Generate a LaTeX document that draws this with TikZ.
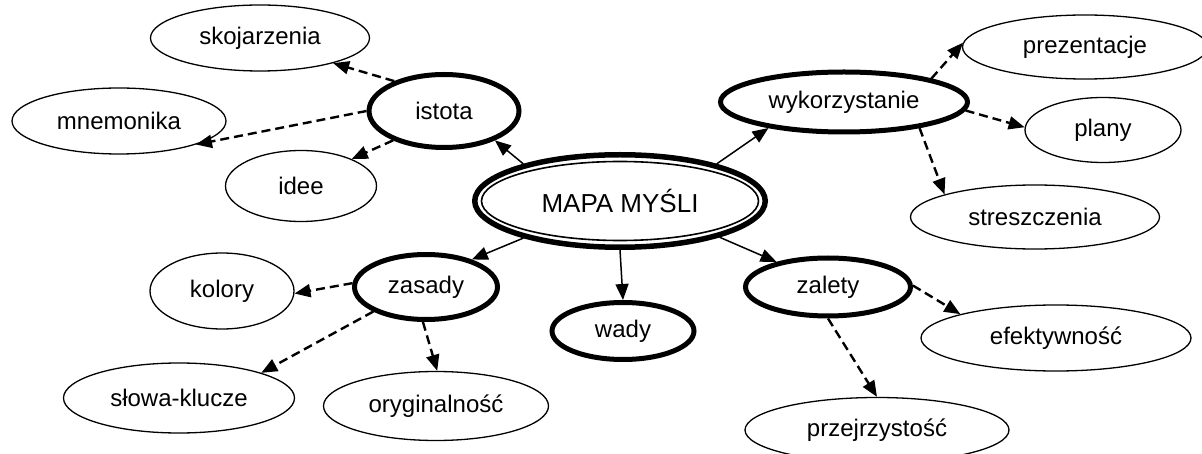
\documentclass[tikz,border=0pt]{standalone}
\usepackage{fontspec}
\setmainfont{Liberation Sans}
\usetikzlibrary{shapes.geometric,arrows.meta}
\tikzset{
  base/.style={ellipse, inner sep=0pt, font=\fontsize{24}{28}\selectfont},
  leaf/.style={base, draw, line width=1.3pt},
  hub/.style={base, draw, line width=5pt},
  solidarrow/.style={-{Triangle[length=16pt,width=13pt]}, line width=1.5pt},
  dasharrow/.style={-{Triangle[length=16pt,width=13pt]}, line width=2.4pt, dash pattern=on 9pt off 5pt},
}
\begin{document}
\begin{tikzpicture}[x=1pt,y=-1pt]
\useasboundingbox (0,0) rectangle (1202,454);
% central
\node[base, draw, line width=5.5pt, minimum width=290.5pt, minimum height=92.5pt,
      font=\fontsize{26}{30}\selectfont] (mapa) at (620,201) {MAPA MYŚLI};
\draw[line width=1.6pt] (mapa.center) ellipse [x radius=138.5pt, y radius=39.5pt];
% hubs
\node[hub, minimum width=150pt, minimum height=73pt] (istota) at (444,111) {istota};
\node[hub, minimum width=247pt, minimum height=60pt] (wyk) at (844,102) {wykorzystanie};
\node[hub, minimum width=143pt, minimum height=65pt] (zasady) at (426,287) {zasady};
\node[hub, minimum width=142pt, minimum height=57pt] (wady) at (623,331) {wady};
\node[hub, minimum width=165pt, minimum height=58pt] (zalety) at (828,287) {zalety};
% leaves
\node[leaf, minimum width=219pt, minimum height=66pt] (skoj) at (260,38) {skojarzenia};
\node[leaf, minimum width=214pt, minimum height=66pt] (mnem) at (119,121) {mnemonika};
\node[leaf, minimum width=151pt, minimum height=71pt] (idee) at (301,186) {idee};
\node[leaf, minimum width=245pt, minimum height=64pt] (prez) at (1085,47) {prezentacje};
\node[leaf, minimum width=156pt, minimum height=65pt] (plany) at (1103,130) {plany};
\node[leaf, minimum width=249pt, minimum height=64pt] (stre) at (1035,217) {streszczenia};
\node[leaf, minimum width=144pt, minimum height=76pt] (kolory) at (222,291) {kolory};
\node[leaf, minimum width=231pt, minimum height=70pt] (slowa) at (179,398) {słowa-klucze};
\node[leaf, minimum width=225pt, minimum height=69pt] (oryg) at (436,406) {oryginalność};
\node[leaf, minimum width=270pt, minimum height=66pt] (efekt) at (1056,338) {efektywność};
\node[leaf, minimum width=264pt, minimum height=65pt] (przej) at (877,430) {przejrzystość};
% solid arrows
\draw[solidarrow] (mapa.159) -- (istota.-30);
\draw[solidarrow] (mapa.21) -- (wyk.-161);
\draw[solidarrow] (mapa.201) -- (zasady.31);
\draw[solidarrow] (mapa.-90) -- (wady.90);
\draw[solidarrow] (mapa.-20) -- (zalety.154);
% dashed arrows
\draw[dasharrow] (istota.149) -- (skoj.-19);
\draw[dasharrow] (istota.180) -- (mnem.-17);
\draw[dasharrow] (istota.210) -- (idee.28);
\draw[dasharrow] (wyk.15) -- (prez.178);
\draw[dasharrow] (wyk.-4) -- (plany.178);
\draw[dasharrow] (wyk.-19) -- (stre.166);
\draw[dasharrow] (zasady.177) -- (kolory.-2);
\draw[dasharrow] (zasady.205) -- (slowa.17);
\draw[dasharrow] (zasady.-95) -- (oryg.88);
\draw[dasharrow] (zalety.1) -- (efekt.166);
\draw[dasharrow] (zalety.-90) -- (przej.90);
\end{tikzpicture}
\end{document}
